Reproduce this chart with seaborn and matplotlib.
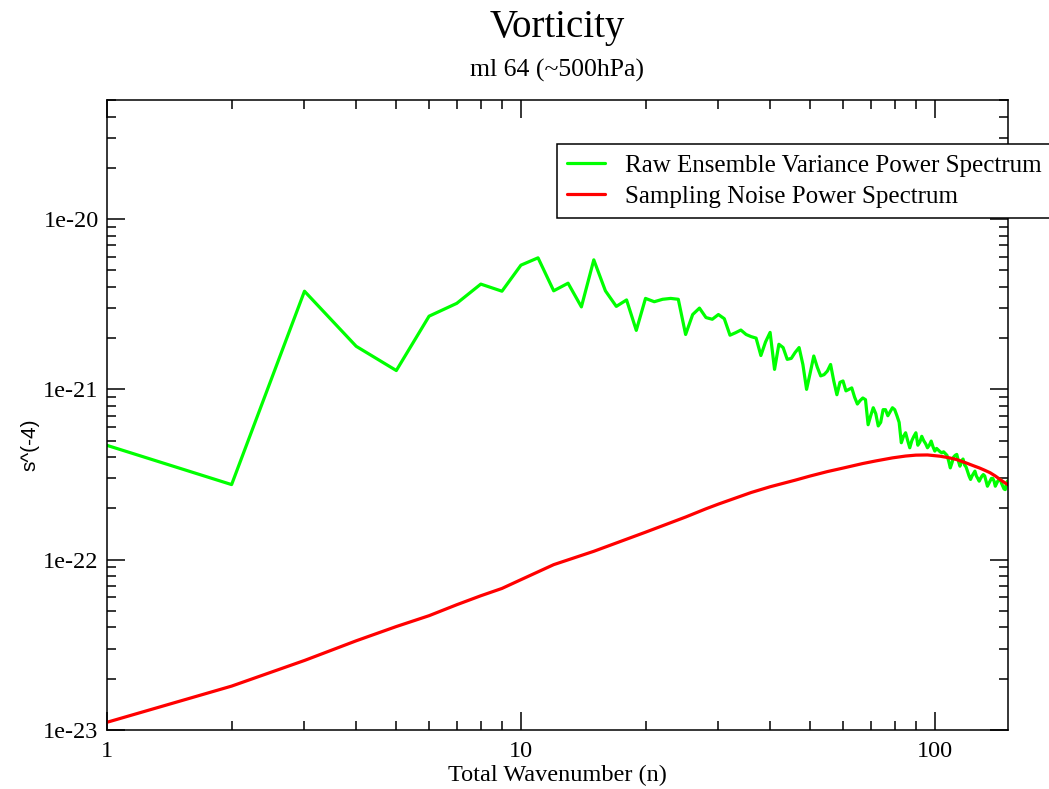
import matplotlib
matplotlib.use("Agg")
import matplotlib.pyplot as plt
import seaborn as sns
import numpy as np
import pandas as pd
from matplotlib.ticker import FixedLocator, FixedFormatter, LogLocator, NullFormatter

# ---------------- data ----------------
title = "Vorticity"
subtitle = "ml 64 (~500hPa)"
x_label = "Total Wavenumber (n)"
y_label = "s^(-4)"
raw_label = "Raw Ensemble Variance Power Spectrum"
noise_label = "Sampling Noise Power Spectrum"

raw_n = list(range(1, 151))
# raw ensemble variance spectrum, units of 1e-21 s^-4
raw_power_e21 = [
    0.469, 0.276, 3.77, 1.79, 1.29, 2.69, 3.20, 4.15, 3.77, 5.36,   # 1-10
    5.92, 3.79, 4.20, 3.05, 5.76, 3.79, 3.07, 3.35, 2.22, 3.42,     # 11-20
    3.27, 3.38, 3.42, 3.38, 2.10, 2.75, 3.00, 2.64, 2.58, 2.75,     # 21-30
    2.60, 2.08, 2.15, 2.23, 2.10, 2.04, 2.00, 1.58, 1.90, 2.16,     # 31-40
    1.31, 1.84, 1.76, 1.50, 1.52, 1.65, 1.76, 1.40, 1.00, 1.25,     # 41-50
    1.57, 1.35, 1.20, 1.22, 1.28, 1.40, 1.12, 0.93, 1.10, 1.12,     # 51-60
    0.98, 1.00, 1.02, 0.90, 0.82, 0.86, 0.89, 0.87, 0.62, 0.70,     # 61-70
    0.78, 0.72, 0.61, 0.64, 0.76, 0.76, 0.70, 0.74, 0.78, 0.76,     # 71-80
    0.70, 0.64, 0.486, 0.53, 0.556, 0.50, 0.454, 0.50, 0.53, 0.556, # 81-90
    0.47, 0.49, 0.53, 0.50, 0.48, 0.454, 0.47, 0.497, 0.46, 0.434,  # 91-100
    0.45, 0.44, 0.43, 0.424, 0.43, 0.42, 0.41, 0.38, 0.346, 0.37,   # 101-110
    0.40, 0.41, 0.415, 0.38, 0.354, 0.38, 0.39, 0.36, 0.35, 0.33,   # 111-120
    0.31, 0.296, 0.31, 0.32, 0.331, 0.31, 0.30, 0.289, 0.30, 0.31,  # 121-130
    0.316, 0.31, 0.29, 0.27, 0.28, 0.29, 0.30, 0.30, 0.29, 0.27,    # 131-140
    0.28, 0.29, 0.295, 0.296, 0.28, 0.27, 0.26, 0.258, 0.28, 0.29,  # 141-150
]

noise_n = [1, 2, 3, 4, 5, 6, 7, 8, 9, 10, 12, 15, 20, 25, 28, 30, 36, 40,
           46, 50, 55, 60, 67, 72, 79, 85, 90, 96, 103, 108, 113, 119,
           124, 128, 132, 136, 140, 146, 150]
# sampling noise spectrum, units of 1e-22 s^-4
noise_power_e22 = [0.111, 0.181, 0.256, 0.334, 0.405, 0.469, 0.544, 0.614,
                   0.678, 0.763, 0.935, 1.12, 1.45, 1.78, 1.99, 2.12, 2.48,
                   2.68, 2.93, 3.10, 3.29, 3.45, 3.67, 3.80, 3.96, 4.06,
                   4.11, 4.12, 4.05, 3.97, 3.87, 3.70, 3.56, 3.46, 3.35,
                   3.24, 3.10, 2.88, 2.76]

x_tick_vals = [1, 10, 100]
x_tick_labels = ["1", "10", "100"]
y_tick_vals = [1e-23, 1e-22, 1e-21, 1e-20]
y_tick_labels = ["1e-23", "1e-22", "1e-21", "1e-20"]

df_raw = pd.DataFrame({"n": raw_n, "power": np.array(raw_power_e21) * 1e-21})
df_noise = pd.DataFrame({"n": noise_n, "power": np.array(noise_power_e22) * 1e-22})

# ---------------- style ----------------
sns.set_theme(style="ticks")
plt.rcParams["font.family"] = ["Liberation Serif", "DejaVu Serif"]
plt.rcParams["axes.linewidth"] = 1.1

W, H = 1049, 789
fig = plt.figure(figsize=(W / 100, H / 100), dpi=100)
ax = fig.add_axes([107 / W, 59 / H, 900.7 / W, 630 / H])

sns.lineplot(data=df_raw, x="n", y="power", ax=ax, color="#00ff00",
             linewidth=2.3, estimator=None, label=raw_label)
sns.lineplot(data=df_noise, x="n", y="power", ax=ax, color="#ff0000",
             linewidth=2.3, estimator=None, label=noise_label)

ax.set_xscale("log")
ax.set_yscale("log")
ax.set_xlim(1, 150)
ax.set_ylim(1e-23, 5e-20)

ax.xaxis.set_major_locator(FixedLocator(x_tick_vals))
ax.xaxis.set_major_formatter(FixedFormatter(x_tick_labels))
ax.yaxis.set_major_locator(FixedLocator(y_tick_vals))
ax.yaxis.set_major_formatter(FixedFormatter(y_tick_labels))
ax.xaxis.set_minor_locator(LogLocator(base=10, subs=np.arange(2, 10), numticks=20))
ax.yaxis.set_minor_locator(LogLocator(base=10, subs=np.arange(2, 10), numticks=20))
ax.xaxis.set_minor_formatter(NullFormatter())
ax.yaxis.set_minor_formatter(NullFormatter())

ax.tick_params(which="both", direction="in", top=True, right=True,
               color="black", width=1.1, labelsize=17.5, labelcolor="black")
ax.tick_params(which="major", length=13)
ax.tick_params(which="minor", length=6.7)
ax.tick_params(axis="x", which="major", pad=8)
ax.tick_params(axis="y", which="major", pad=6)
for s in ax.spines.values():
    s.set_color("black")
    s.set_linewidth(1.1)

ax.set_xlabel(x_label, fontsize=17.5, color="black")
ax.xaxis.label.set_va("center")
ax.xaxis.set_label_coords(0.5, -(775 - 730) / 630)
ax.set_ylabel(y_label, fontsize=15, color="black",
              fontfamily=["Liberation Sans", "DejaVu Sans"])
ax.yaxis.label.set_va("center")
ax.yaxis.set_label_coords(-(107 - 30) / 900.7, (730 - 445) / 630)

fig.text(557 / W, 1 - 28 / H, title, ha="center", va="center", fontsize=28, color="black")
fig.text(557 / W, 1 - 70 / H, subtitle, ha="center", va="center", fontsize=18.5, color="black")

leg = ax.legend(loc="upper left", bbox_to_anchor=(0.5, 0.93), frameon=True,
                fancybox=False, edgecolor="black", framealpha=1, fontsize=18,
                handlelength=1.5, handletextpad=0.8, labelspacing=0.35,
                borderpad=0.4, borderaxespad=0)
leg.get_frame().set_linewidth(1.1)
for t in leg.get_texts():
    t.set_color("black")

fig.savefig("out.png", dpi=100)
